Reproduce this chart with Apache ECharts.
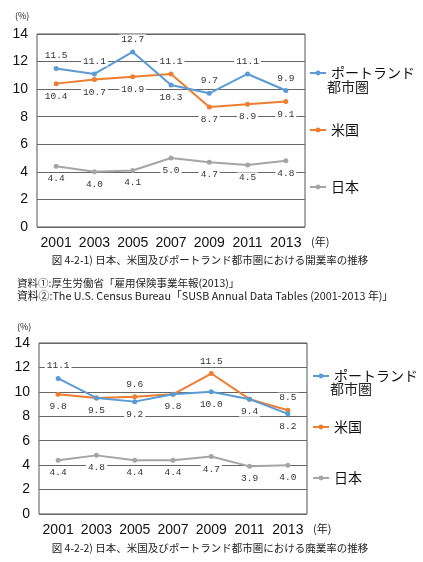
<!DOCTYPE html>
<html>
<head>
<meta charset="utf-8">
<script src="https://cdn.jsdelivr.net/npm/echarts@6/dist/echarts.min.js"></script>
<style>
  html, body { margin: 0; padding: 0; background: #fff; }
  #chart { width: 423px; height: 562px; }
</style>
</head>
<body>
<div id="chart"></div>
<script>
  // categories
  var years = ['2001', '2003', '2005', '2007', '2009', '2011', '2013'];

  // 開業率 (%)
  var openPortland = [11.5, 11.1, 12.7, 10.3, 9.7, 11.1, 9.9];
  var openUS = [10.4, 10.7, 10.9, 11.1, 8.7, 8.9, 9.1];
  var openJapan = [4.4, 4.0, 4.1, 5.0, 4.7, 4.5, 4.8];

  // 廃業率 (%)
  var closePortland = [11.1, 9.5, 9.2, 9.8, 10.0, 9.4, 8.2];
  var closeUS = [9.8, 9.5, 9.6, 9.8, 11.5, 9.4, 8.5];
  var closeJapan = [4.4, 4.8, 4.4, 4.4, 4.7, 3.9, 4.0];

  // label placement per point (null = hidden, the other line carries it)
  var B = 'bottom', T = 'top';
  var openPortlandPos = [T, T, T, B, T, T, T];
  var openUSPos = [B, B, B, T, B, B, B];
  var openJapanPos = [B, B, B, B, B, B, B];
  var closePortlandPos = [T, B, B, B, B, B, B];
  var closeUSPos = [B, null, T, null, T, null, T];
  var closeJapanPos = [B, B, B, B, B, B, B];

  var NAME_P = 'ポートランド都市圏', NAME_US = '米国', NAME_JP = '日本';
  var COLORS = {};
  COLORS[NAME_P] = '#5b9bd5';
  COLORS[NAME_US] = '#ed7d31';
  COLORS[NAME_JP] = '#a5a5a5';

  var axisFont = "'Liberation Sans Narrow', 'Arial Narrow', 'Liberation Sans', sans-serif";
  var jpFont = "'Noto Sans CJK JP', sans-serif";

  function makeSeries(name, values, pos, idx) {
    return {
      name: name,
      type: 'line',
      xAxisIndex: idx,
      yAxisIndex: idx,
      symbol: 'circle',
      symbolSize: 5,
      color: COLORS[name],
      lineStyle: { width: 2 },
      z: name === NAME_P ? 4 : 3,
      data: values.map(function (v, i) {
        return {
          value: v,
          label: pos[i] ? { show: true, position: pos[i] } : { show: false }
        };
      }),
      label: {
        fontFamily: "'Liberation Mono', monospace",
        fontSize: 9.5,
        color: '#333',
        backgroundColor: '#fff',
        padding: [0, 2],
        formatter: function (p) { return p.value.toFixed(1); }
      }
    };
  }

  function makeLegend(name, left, top, text) {
    return {
      data: [name],
      left: left,
      top: top,
      padding: 0,
      itemWidth: 16,
      itemHeight: 6,
      selectedMode: false,
      textStyle: { fontFamily: jpFont, fontSize: 14, color: '#111' },
      formatter: function () { return text; }
    };
  }

  function label(text, x, y, size, align, family) {
    return {
      type: 'text',
      x: x,
      y: y,
      silent: true,
      style: {
        text: text,
        fill: '#222',
        font: size + 'px ' + (family || jpFont),
        align: align || 'left',
        verticalAlign: 'middle'
      }
    };
  }

  var chart = echarts.init(document.getElementById('chart'));

  var gridBase = { show: true, borderColor: '#555', borderWidth: 1, containLabel: false };
  var xBase = {
    type: 'category',
    data: years,
    boundaryGap: true,
    axisLine: { show: false },
    axisTick: { show: false },
    axisLabel: { fontFamily: axisFont, fontSize: 14, color: '#111', margin: 9, interval: 0 }
  };
  var yBase = {
    type: 'value',
    min: 0,
    max: 14,
    interval: 2,
    axisLine: { show: false },
    axisTick: { show: false },
    axisLabel: { fontFamily: axisFont, fontSize: 14, color: '#111', margin: 9 },
    splitLine: { lineStyle: { color: '#666', width: 1 } }
  };

  var option = {
    animation: false,
    grid: [
      Object.assign({ left: 37, right: 118, top: 34, height: 193 }, gridBase),
      Object.assign({ left: 39, right: 116, top: 343, height: 171 }, gridBase)
    ],
    xAxis: [
      Object.assign({ gridIndex: 0 }, xBase),
      Object.assign({ gridIndex: 1 }, xBase)
    ],
    yAxis: [
      Object.assign({ gridIndex: 0 }, yBase),
      Object.assign({ gridIndex: 1 }, yBase)
    ],
    legend: [
      makeLegend(NAME_P, 309, 66, 'ポートランド'),
      makeLegend(NAME_US, 309, 123, '米国'),
      makeLegend(NAME_JP, 309, 180, '日本'),
      makeLegend(NAME_P, 312, 369, 'ポートランド'),
      makeLegend(NAME_US, 312, 420, '米国'),
      makeLegend(NAME_JP, 312, 471, '日本')
    ],
    graphic: [
      label('(%)', 15, 16, 9),
      label('都市圏', 327, 87, 14),
      label('(年)', 311, 242, 11),
      label('図 4-2-1) 日本、米国及びポートランド都市圏における開業率の推移', 210, 260, 10.5, 'center'),
      label('資料①:厚生労働省「雇用保険事業年報(2013)」', 17, 283, 10.5),
      label('資料②:The U.S. Census Bureau「SUSB Annual Data Tables (2001-2013 年)」', 17, 296, 10.8),
      label('(%)', 17, 327, 9),
      label('都市圏', 330, 389, 14),
      label('(年)', 313, 529, 11),
      label('図 4-2-2) 日本、米国及びポートランド都市圏における廃業率の推移', 210, 548, 10.5, 'center')
    ],
    series: [
      makeSeries(NAME_P, openPortland, openPortlandPos, 0),
      makeSeries(NAME_US, openUS, openUSPos, 0),
      makeSeries(NAME_JP, openJapan, openJapanPos, 0),
      makeSeries(NAME_P, closePortland, closePortlandPos, 1),
      makeSeries(NAME_US, closeUS, closeUSPos, 1),
      makeSeries(NAME_JP, closeJapan, closeJapanPos, 1)
    ]
  };

  chart.setOption(option);
</script>
</body>
</html>
